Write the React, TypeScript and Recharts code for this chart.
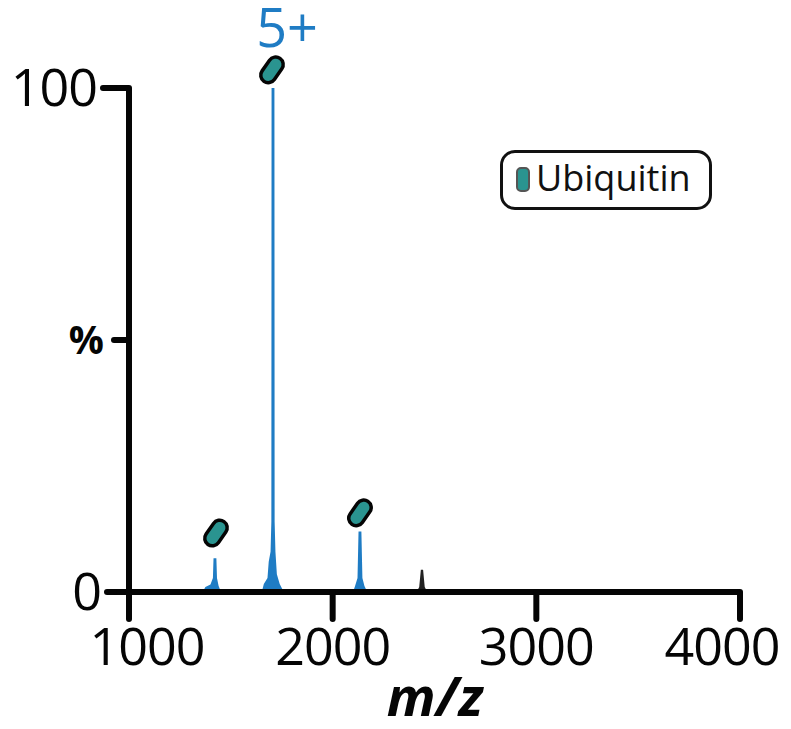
import { Area, ComposedChart, ReferenceDot, XAxis, YAxis } from 'recharts';

// m/z positions shared by both traces
const mzValues = [
  1000, 1362, 1375, 1400, 1412, 1415, 1429, 1432, 1440, 1452,
  1652, 1662, 1680, 1686, 1695, 1699, 1700, 1714, 1715, 1719, 1726, 1740, 1760,
  2100, 2110, 2122, 2127, 2141, 2146, 2156, 2170,
  2412, 2425, 2433, 2444, 2452, 2465, 4000,
];
const blueValues = [
  0, 0, 1, 1.5, 2.8, 6.7, 6.7, 2.8, 1.2, 0,
  0, 1.6, 2.8, 6, 8, 14, 100, 100, 14, 8, 3.5, 1.6, 0,
  0, 1.2, 2.8, 12, 12, 2.8, 1.2, 0,
  null, null, null, null, null, null, null,
];
const blackValues = [
  null, null, null, null, null, null, null, null, null, null,
  null, null, null, null, null, null, null, null, null, null, null, null, null,
  null, null, null, null, null, null, null, null,
  0, 1, 4.4, 4.4, 1, 0, 0,
];

const xTicks = [1000, 2000, 3000, 4000];
const yTicks = [0, 50, 100];
const yTickLabels: Record<number, string> = { 0: '0', 50: '%', 100: '100' };

// where the ubiquitin glyphs sit above their peaks
const glyphMz = [1427, 1702, 2134];
const glyphLevel = [11.7, 103.6, 15.7];

const spectrum = mzValues.map((mz, i) => ({ mz, blue: blueValues[i], black: blackValues[i] }));

const FONT = '"Open Sans", sans-serif';
const BLUE = '#1f7cc4';
const TEAL = '#2a9490';
const INK = '#050505';

const YTick = ({ x, y, payload }: any) => {
  const value = payload.value;
  const isPercent = value === 50;
  const extra = value === 100 ? 11 : 7;
  return (
    <g>
      {!isPercent && (
        <line x1={x} x2={x - extra} y1={y} y2={y} stroke={INK} strokeWidth={6} strokeLinecap="round" />
      )}
      <text
        x={isPercent ? x - 10 : x - (value === 100 ? 17 : 13)}
        y={y}
        dy={isPercent ? 14 : 18}
        textAnchor="end"
        fontFamily={FONT}
        fontSize={isPercent ? 39 : 52}
        fontWeight={isPercent ? 700 : 400}
        letterSpacing={isPercent ? 0 : -1}
        fill={INK}
      >
        {yTickLabels[value]}
      </text>
    </g>
  );
};

// first and last labels are pulled inwards, the way they sit in the figure
const XTick = ({ x, y, payload }: any) => {
  const nudge = payload.value === 1000 ? 18 : payload.value === 4000 ? -18 : 0;
  return (
    <text
      x={x + nudge}
      y={y}
      dy={46}
      textAnchor="middle"
      fontFamily={FONT}
      fontSize={52}
      letterSpacing={-1}
      fill={INK}
    >
      {payload.value}
    </text>
  );
};

const Glyph = ({ cx, cy }: any) => (
  <rect
    x={cx - 7.5}
    y={cy - 14}
    width={15}
    height={28}
    rx={7.5}
    fill={TEAL}
    stroke={INK}
    strokeWidth={3.5}
    transform={`rotate(35 ${cx} ${cy})`}
  />
);

const ChargeLabel = ({ cx, cy }: any) => (
  <text x={cx} y={cy} textAnchor="middle" fontFamily={FONT} fontSize={54} fill={BLUE}>
    5+
  </text>
);

const AxisTitle = ({ cx, cy }: any) => (
  <text
    x={cx}
    y={cy}
    textAnchor="middle"
    fontFamily={FONT}
    fontSize={54}
    fontWeight={700}
    fontStyle="italic"
    fill={INK}
  >
    m/z
  </text>
);

export default function App() {
  return (
    <div style={{ position: 'absolute', left: 0, top: 0, width: 791, height: 729, background: '#fff' }}>
      <ComposedChart
        width={791}
        height={729}
        data={spectrum}
        margin={{ top: 88, right: 51, bottom: 0, left: 0 }}
      >
        <XAxis
          dataKey="mz"
          type="number"
          domain={[1000, 4000]}
          ticks={xTicks}
          height={137}
          interval={0}
          stroke={INK}
          strokeWidth={6}
          tickSize={27}
          tickMargin={0}
          tick={<XTick />}
          tickLine={{ stroke: INK, strokeWidth: 6, strokeLinecap: 'round' }}
        />
        <YAxis
          type="number"
          domain={[0, 100]}
          ticks={yTicks}
          width={129}
          interval={0}
          stroke={INK}
          strokeWidth={6}
          tickSize={15}
          tickMargin={0}
          tick={<YTick />}
          tickLine={{ stroke: INK, strokeWidth: 6, strokeLinecap: 'round' }}
        />
        <Area
          dataKey="blue"
          type="linear"
          fill={BLUE}
          fillOpacity={1}
          stroke="none"
          isAnimationActive={false}
          dot={false}
          activeDot={false}
        />
        <Area
          dataKey="black"
          type="linear"
          fill="#222"
          fillOpacity={1}
          stroke="none"
          isAnimationActive={false}
          dot={false}
          activeDot={false}
        />
        {glyphMz.map((mz, i) => (
          <ReferenceDot key={mz} x={mz} y={glyphLevel[i]} ifOverflow="visible" shape={<Glyph />} />
        ))}
        <ReferenceDot x={1776} y={108.1} ifOverflow="visible" shape={<ChargeLabel />} />
        <ReferenceDot x={2502} y={-24.6} ifOverflow="visible" shape={<AxisTitle />} />
      </ComposedChart>

      <div
        style={{
          position: 'absolute',
          left: 500,
          top: 150,
          width: 206,
          height: 54,
          border: '3px solid #111',
          borderRadius: 15,
          background: '#fff',
        }}
      >
        <span
          style={{
            position: 'absolute',
            left: 13,
            top: 14,
            width: 10,
            height: 21,
            background: TEAL,
            border: '2px solid #555',
            borderRadius: 5,
          }}
        />
        <span
          style={{
            position: 'absolute',
            left: 33,
            top: 0,
            fontFamily: FONT,
            fontSize: 36,
            color: '#111',
          }}
        >
          Ubiquitin
        </span>
      </div>
    </div>
  );
}
